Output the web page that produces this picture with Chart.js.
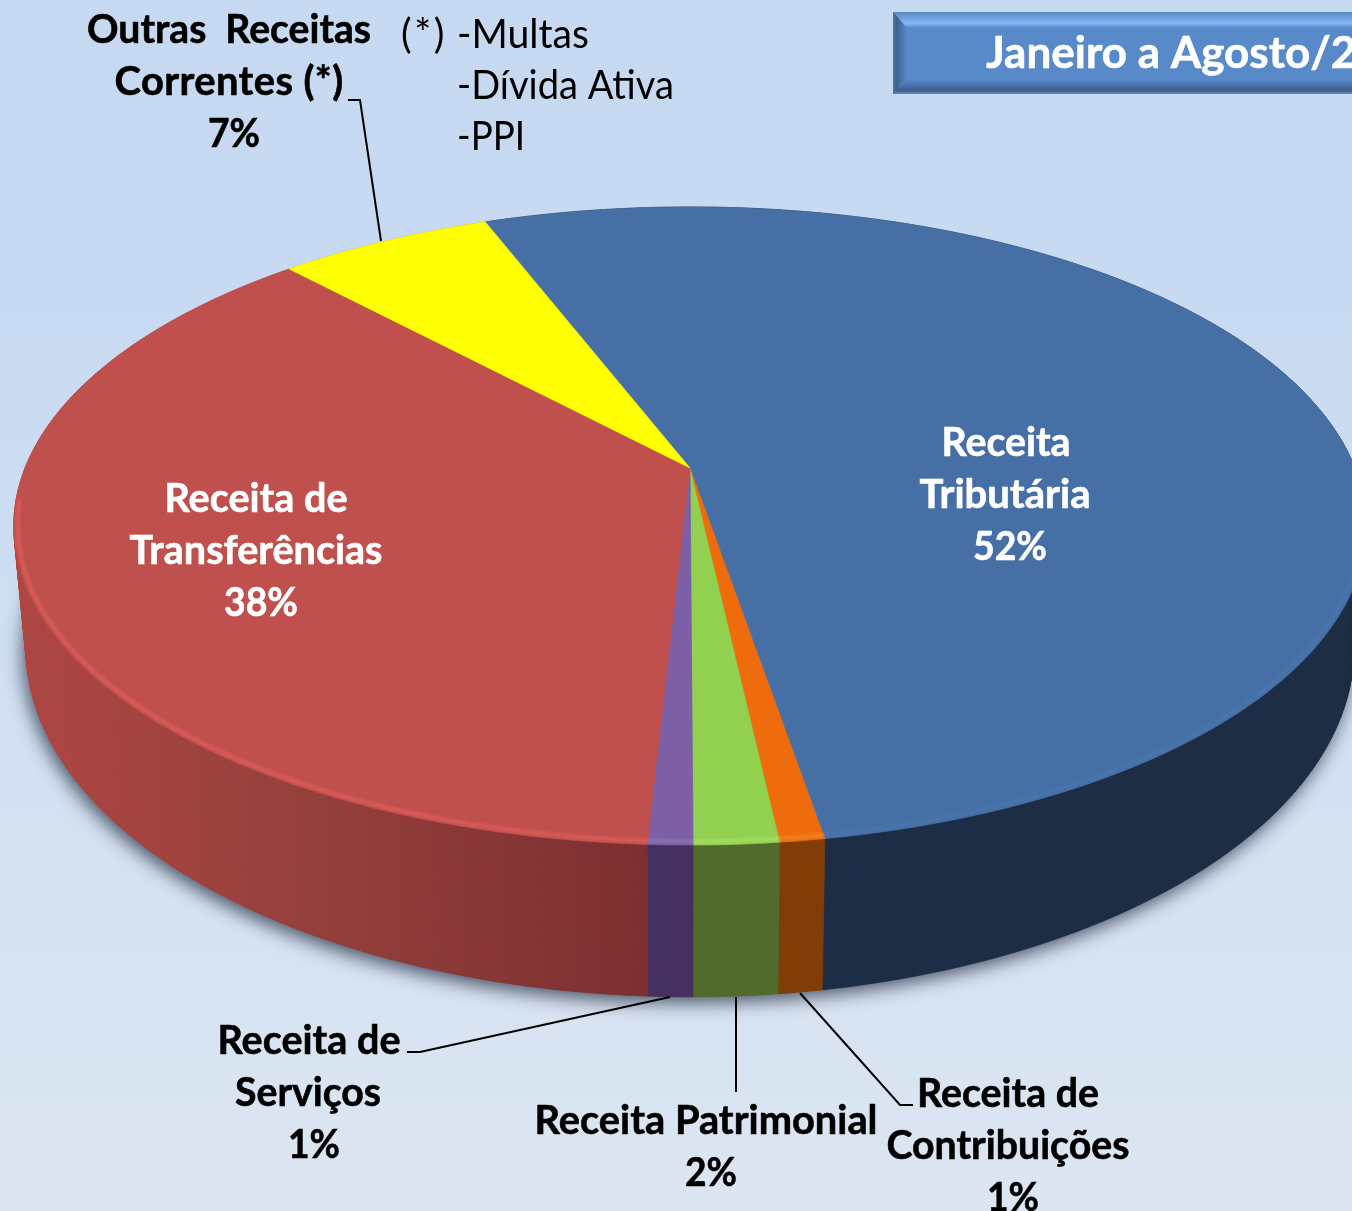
<!DOCTYPE html>
<html>
<head>
<meta charset="utf-8">
<style>
html, body { margin: 0; padding: 0; width: 1352px; height: 1211px; overflow: hidden; background: linear-gradient(180deg, #c6d9f1 0%, #c8daf1 25%, #dce6f2 100%); }
canvas { display: block; }
</style>
</head>
<body>
<canvas id="pie" width="1352" height="1211"></canvas>
<script src="https://cdn.jsdelivr.net/npm/chart.js@4"></script>
<script>
// values (slice shares), the printed labels are the rounded ones
const categories = ["Receita Tributária", "Receita de Contribuições", "Receita Patrimonial", "Receita de Serviços", "Receita de Transferências", "Outras Receitas Correntes (*)"];
const shares = [53.2, 0.9, 1.7, 0.9, 37.2, 6.1];
const percentLabels = ["52%", "1%", "2%", "1%", "38%", "7%"];
const noteLines = ["-Multas", "-Dívida Ativa", "-PPI"];
const periodTitle = "Janeiro a Agosto/2";

const topColors = ["#4670a5", "#ee6c0c", "#92d050", "#7c5fa5", "#c0504d", "#ffff00"];
const sideColors = ["#1c2d45", "#823c06", "#506b2a", "#46305f", "#8a3836", "#b0b000"];
const rimColors = ["#4874ac", "#f07c20", "#a0da60", "#8a6eb0", "#d65a56", "#ffff00"];

// perspective of the disc: top face and bottom edge
const TOP = { cx: 690, cy: 468, a: 665, b: 308.5 };
const BOTTOM = { cx: 690, cy: 584.4, a: 653, b: 337.5 };
const TILT = -0.1818;

function rim(p, ang) {
    const d = 1 + TILT * Math.sin(ang);
    return [p.cx + p.a * Math.cos(ang) / d, p.cy + p.b * Math.sin(ang) / d];
}

function trace(ctx, p, a0, a1) {
    const n = Math.max(2, Math.ceil(Math.abs(a1 - a0) / 0.01));
    for (let i = 0; i <= n; i++) {
        const q = rim(p, a0 + (a1 - a0) * i / n);
        ctx.lineTo(q[0], q[1]);
    }
}

const disc3d = {
    id: 'disc3d',
    beforeDatasetDraw(chart) {
        const ctx = chart.ctx;
        const arcs = chart.getDatasetMeta(0).data;

        // soft shadow under the disc
        ctx.save();
        ctx.shadowColor = 'rgba(30,40,60,0.75)';
        ctx.shadowBlur = 18;
        ctx.shadowOffsetX = -3;
        ctx.shadowOffsetY = 6;
        ctx.fillStyle = '#555';
        ctx.beginPath();
        trace(ctx, BOTTOM, 0, Math.PI * 2);
        ctx.closePath();
        ctx.fill();
        ctx.restore();

        // side wall, swept in small quads so the outline follows the tangent between both rims
        arcs.forEach((el, i) => {
            const { startAngle, endAngle } = el.getProps(['startAngle', 'endAngle'], true);
            let fill = sideColors[i];
            if (i === 4) {
                const g = ctx.createLinearGradient(20, 0, 650, 0);
                g.addColorStop(0, '#b04643');
                g.addColorStop(0.45, '#96403c');
                g.addColorStop(1, '#7c2f30');
                fill = g;
            }
            ctx.fillStyle = fill;
            ctx.strokeStyle = fill;
            ctx.lineWidth = 0.6;
            const n = Math.max(2, Math.ceil((endAngle - startAngle) / 0.01));
            for (let k = 0; k < n; k++) {
                const a0 = startAngle + (endAngle - startAngle) * k / n;
                const a1 = startAngle + (endAngle - startAngle) * (k + 1) / n;
                const p0 = rim(TOP, a0), p1 = rim(TOP, a1), p2 = rim(BOTTOM, a1), p3 = rim(BOTTOM, a0);
                ctx.beginPath();
                ctx.moveTo(p0[0], p0[1]);
                ctx.lineTo(p1[0], p1[1]);
                ctx.lineTo(p2[0], p2[1]);
                ctx.lineTo(p3[0], p3[1]);
                ctx.closePath();
                ctx.fill();
                ctx.stroke();
            }
        });

        // top face
        arcs.forEach((el, i) => {
            const { startAngle, endAngle } = el.getProps(['startAngle', 'endAngle'], true);
            ctx.fillStyle = topColors[i];
            ctx.strokeStyle = topColors[i];
            ctx.lineWidth = 0.6;
            ctx.beginPath();
            ctx.moveTo(TOP.cx, TOP.cy);
            trace(ctx, TOP, startAngle, endAngle);
            ctx.closePath();
            ctx.fill();
            ctx.stroke();
        });

        // lighter bevel on the front edge
        ctx.save();
        ctx.filter = 'blur(1.2px)';
        arcs.forEach((el, i) => {
            const { startAngle, endAngle } = el.getProps(['startAngle', 'endAngle'], true);
            const from = Math.max(startAngle, 0.1);
            const to = Math.min(endAngle, Math.PI - 0.1);
            if (to <= from) return;
            ctx.strokeStyle = rimColors[i];
            ctx.lineWidth = 4.5;
            ctx.beginPath();
            const inner = { cx: TOP.cx, cy: TOP.cy, a: TOP.a - 4, b: TOP.b - 3 };
            const s = rim(inner, from);
            ctx.moveTo(s[0], s[1]);
            trace(ctx, inner, from, to);
            ctx.stroke();
        });
        ctx.restore();

        return false; // the wedges were drawn above from the chart's own angles
    },
    afterDraw(chart) {
        const ctx = chart.ctx;
        ctx.save();
        drawTitleBox(ctx);
        drawLeaders(ctx);
        drawLabels(ctx);
        ctx.restore();
    }
};

function drawTitleBox(ctx) {
    const L = 893, T = 12, R = 1360, B = 94;
    ctx.fillStyle = '#5889c9';
    ctx.fillRect(L, T, R - L, B - T);

    let g = ctx.createLinearGradient(0, T, 0, T + 16);
    g.addColorStop(0, '#5a86bb');
    g.addColorStop(0.4, '#6ea2e2');
    g.addColorStop(0.7, '#86b9f8');
    g.addColorStop(1, '#5889c9');
    ctx.fillStyle = g;
    ctx.beginPath();
    ctx.moveTo(L, T); ctx.lineTo(R, T); ctx.lineTo(R, T + 16); ctx.lineTo(L + 14, T + 16);
    ctx.closePath();
    ctx.fill();

    g = ctx.createLinearGradient(0, B - 14, 0, B);
    g.addColorStop(0, '#5889c9');
    g.addColorStop(0.75, '#3c5d8a');
    g.addColorStop(1, '#6a8db8');
    ctx.fillStyle = g;
    ctx.beginPath();
    ctx.moveTo(L, B); ctx.lineTo(R, B); ctx.lineTo(R, B - 14); ctx.lineTo(L + 14, B - 14);
    ctx.closePath();
    ctx.fill();

    g = ctx.createLinearGradient(L, 0, L + 14, 0);
    g.addColorStop(0, '#4e76a8');
    g.addColorStop(0.25, '#3f618f');
    g.addColorStop(1, '#5889c9');
    ctx.fillStyle = g;
    ctx.beginPath();
    ctx.moveTo(L, T); ctx.lineTo(L + 14, T + 16); ctx.lineTo(L + 14, B - 14); ctx.lineTo(L, B);
    ctx.closePath();
    ctx.fill();

    ctx.fillStyle = '#fff';
    ctx.strokeStyle = '#fff';
    ctx.lineWidth = 0.6;
    ctx.font = 'bold 44px Lato';
    ctx.textAlign = 'left';
    ctx.fillText(periodTitle, 986, 68, 374);
    ctx.strokeText(periodTitle, 986, 68, 374);
}

function drawLeaders(ctx) {
    ctx.strokeStyle = '#000';
    ctx.lineWidth = 2;
    [
        [[348, 100], [360, 100], [381, 241]],
        [[407, 1052], [420, 1052], [670, 997]],
        [[736, 997], [736, 1092]],
        [[800, 993], [900, 1105], [913, 1105]]
    ].forEach(line => {
        ctx.beginPath();
        line.forEach((p, i) => i ? ctx.lineTo(p[0], p[1]) : ctx.moveTo(p[0], p[1]));
        ctx.stroke();
    });
}

function drawLabels(ctx) {
    const put = (t, x, y, w, color, heavy) => {
        ctx.fillStyle = color;
        ctx.fillText(t, x, y, w);
        if (heavy) {
            ctx.strokeStyle = color;
            ctx.lineWidth = 0.6;
            ctx.strokeText(t, x, y, w);
        }
    };
    ctx.font = 'bold 40px Lato';
    ctx.textAlign = 'center';

    put('Outras  Receitas', 229, 43, 284, '#000', true);
    ctx.letterSpacing = '0.4px';
    put('Correntes (*)', 229, 95, 229, '#000', true);
    ctx.letterSpacing = '0px';
    put(percentLabels[5], 234, 147, 52, '#000', true);

    put('Receita', 1006, 456, 129, '#fff', true);
    put('Tributária', 1005, 508, 171, '#fff', true);
    put(percentLabels[0], 1010, 560, 74, '#fff', true);

    put('Receita de', 256, 512, 183, '#fff', true);
    put('Transferências', 256, 564, 253, '#fff', true);
    put(percentLabels[4], 261, 616, 74, '#fff', true);

    put('Receita de', 309, 1054, 183, '#000', true);
    put('Serviços', 308, 1106, 146, '#000', true);
    put(percentLabels[3], 314, 1158, 52, '#000', true);

    put('Receita Patrimonial', 706, 1134, 343, '#000', true);
    put(percentLabels[2], 711, 1186, 52, '#000', true);

    put('Receita de', 1008, 1107, 182, '#000', true);
    put('Contribuições', 1008, 1159, 243, '#000', true);
    put(percentLabels[1], 1013, 1211, 52, '#000', true);

    // footnote next to the label
    ctx.font = '40px Lato';
    ctx.textAlign = 'left';
    ctx.letterSpacing = '2.5px';
    put('(*)', 401, 48, 46, '#000');
    ctx.letterSpacing = '0px';
    put(noteLines[0], 457, 48, 132, '#000');
    put(noteLines[1], 457, 99, 217, '#000');
    put(noteLines[2], 457, 150, 68, '#000');
}

new Chart(document.getElementById('pie'), {
    type: 'pie',
    data: {
        labels: categories,
        datasets: [{ data: shares, backgroundColor: topColors, borderWidth: 0 }]
    },
    options: {
        responsive: false,
        animation: false,
        rotation: -21.1,
        events: [],
        plugins: { legend: { display: false }, tooltip: { enabled: false } }
    },
    plugins: [disc3d]
});
</script>
</body>
</html>
